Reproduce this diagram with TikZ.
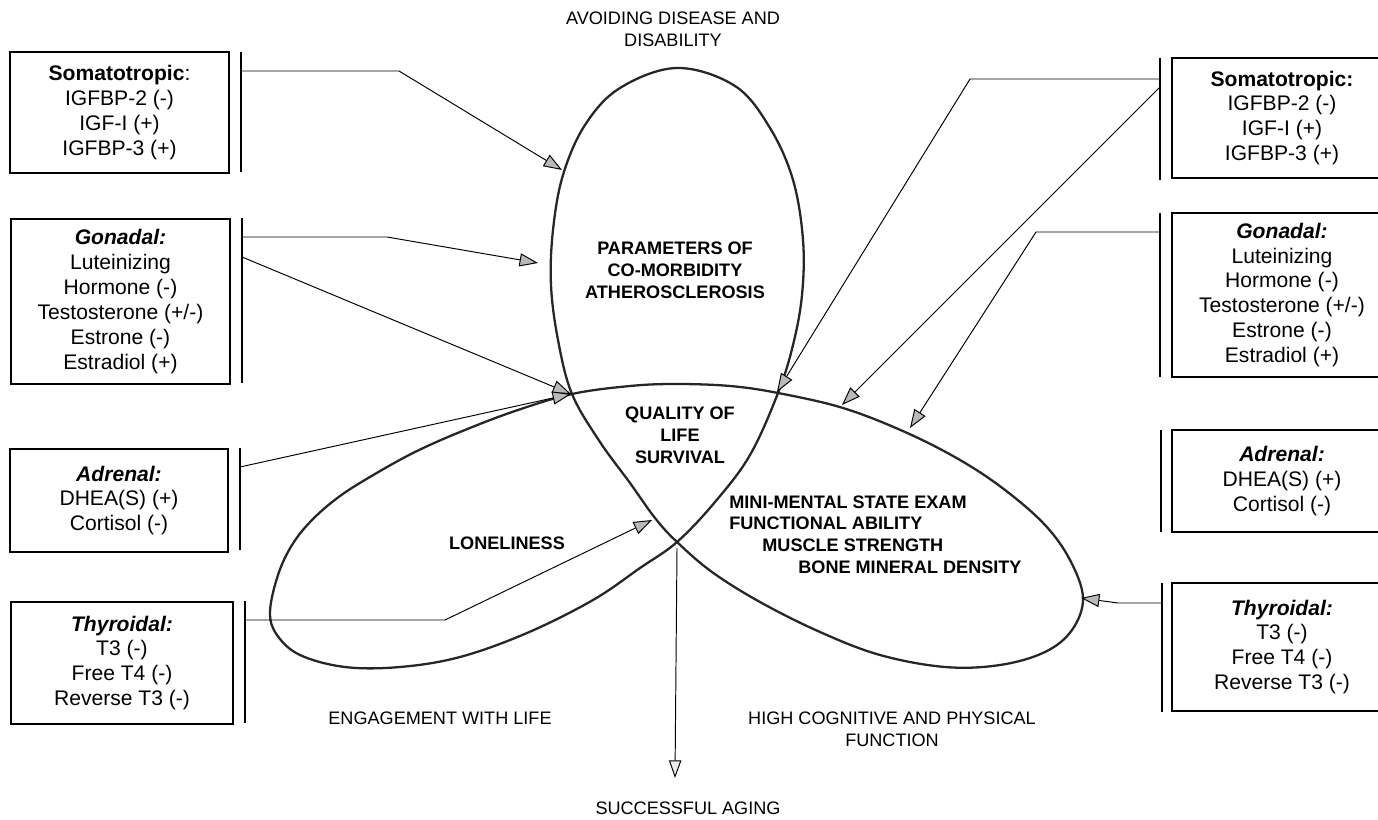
\documentclass[tikz,border=0pt]{standalone}
\usepackage{fontspec}
\setmainfont{Liberation Sans}
\usetikzlibrary{arrows.meta,positioning}
\tikzset{
  hbox/.style={draw, line width=0.9pt, align=center, inner sep=2pt, font=\fontsize{12}{14.2}\selectfont},
  bar/.style={fill=black, inner sep=0pt, minimum width=1.3pt},
  petal/.style={line width=1.3pt, draw=black!85, line join=round},
  arr/.style={-{Triangle[length=10.5pt,width=7.5pt,fill=gray!55]}, line width=0.55pt},
  openarr/.style={-{Triangle[length=10pt,width=7pt,fill=gray!15]}, line width=0.55pt},
  inlabel/.style={align=center, inner sep=0pt, font=\fontsize{10.3}{12.6}\selectfont\bfseries},
  outlabel/.style={align=center, inner sep=0pt, font=\fontsize{10.3}{12.6}\selectfont}
}

\begin{document}
\begin{tikzpicture}[x=0.02cm,y=-0.02cm]
\useasboundingbox (0,0) rectangle (1378,820);

% the three petals, one closed line crossing itself
\draw[petal] plot[smooth cycle, tension=0.6] coordinates {
  (270,612) (278,575) (292,545) (312,520) (340,496) (375,474) (415,452)
  (460,432) (515,411) (572,394) (630,386) (676,384) (730,386) (778,393)
  (843,408) (905,432) (960,460) (1005,490) (1045,525) (1070,560) (1083,598)
  (1072,630) (1045,652) (1000,665) (945,667) (880,655) (820,632) (760,602)
  (712,572) (677,542) (655,518) (630,483) (600,442) (572,394) (558,340)
  (551,285) (553,230) (563,175) (585,125) (620,88) (677,68) (735,86)
  (770,128) (793,180) (803,240) (802,295) (793,345) (778,393) (750,455)
  (715,502) (677,542) (640,568) (593,600) (527,633) (460,657) (400,667)
  (345,667) (300,655) (277,635)};

% hormone boxes, left
\node[hbox, minimum width=4.38cm, minimum height=2.42cm] (lsom) at (119.5,112.5)
  {\textbf{Somatotropic}:\\IGFBP-2 (-)\\IGF-I (+)\\IGFBP-3 (+)};
\node[hbox, minimum width=4.38cm, minimum height=3.3cm] (lgon) at (120.5,301.5)
  {\textbf{\itshape Gonadal:}\\Luteinizing\\Hormone (-)\\Testosterone (+/-)\\Estrone (-)\\Estradiol (+)};
\node[hbox, minimum width=4.36cm, minimum height=2.06cm] (ladr) at (119,500.5)
  {\textbf{\itshape Adrenal:}\\DHEA(S) (+)\\Cortisol (-)};
\node[hbox, minimum width=4.44cm, minimum height=2.44cm] (lthy) at (122,663)
  {\textbf{\itshape Thyroidal:}\\T3 (-)\\Free T4 (-)\\Reverse T3 (-)};

% hormone boxes, right
\node[hbox, minimum width=4.4cm, minimum height=2.4cm] (rsom) at (1282,118)
  {\textbf{Somatotropic:}\\IGFBP-2 (-)\\IGF-I (+)\\IGFBP-3 (+)};
\node[hbox, minimum width=4.4cm, minimum height=3.28cm] (rgon) at (1282,295)
  {\textbf{\itshape Gonadal:}\\Luteinizing\\Hormone (-)\\Testosterone (+/-)\\Estrone (-)\\Estradiol (+)};
\node[hbox, minimum width=4.4cm, minimum height=2.04cm] (radr) at (1282,481)
  {\textbf{\itshape Adrenal:}\\DHEA(S) (+)\\Cortisol (-)};
\node[hbox, minimum width=4.4cm, minimum height=2.56cm] (rthy) at (1282,647)
  {\textbf{\itshape Thyroidal:}\\T3 (-)\\Free T4 (-)\\Reverse T3 (-)};

% bars beside the boxes
\node[bar, minimum height=2.4cm] (lsomBar) at (241,112) {};
\node[bar, minimum height=3.3cm] (lgonBar) at (242,300.5) {};
\node[bar, minimum height=2.04cm] (ladrBar) at (240,499) {};
\node[bar, minimum height=2.44cm] (lthyBar) at (245,662) {};
\node[bar, minimum height=2.44cm] (rsomBar) at (1160,119) {};
\node[bar, minimum height=3.28cm] (rgonBar) at (1160,295) {};
\node[bar, minimum height=2.04cm] (radrBar) at (1161,481) {};
\node[bar, minimum height=2.58cm] (rthyBar) at (1162,647.5) {};

% labels
\node[outlabel] (avoid) at (673,29) {AVOIDING DISEASE AND\\DISABILITY};
\node[outlabel] (engage) at (440,718) {ENGAGEMENT WITH LIFE};
\node[outlabel] (cogn) at (892,729) {HIGH COGNITIVE AND PHYSICAL\\FUNCTION};
\node[outlabel] (success) at (688,808) {SUCCESSFUL AGING};
\node[inlabel] (param) at (675,270) {PARAMETERS OF\\CO-MORBIDITY\\ATHEROSCLEROSIS};
\node[inlabel] (qol) at (680,435) {QUALITY OF\\LIFE\\SURVIVAL};
\node[inlabel] (lonely) at (507,543) {LONELINESS};
\node[inlabel, anchor=west] (mmse) at (729,502) {MINI-MENTAL STATE EXAM};
\node[inlabel, anchor=west] (func) at (729,523) {FUNCTIONAL ABILITY};
\node[inlabel, anchor=west] (muscle) at (762,545) {MUSCLE STRENGTH};
\node[inlabel, anchor=west] (bone) at (798,567) {BONE MINERAL DENSITY};

% ends of the connectors
\coordinate (lsomOut) at (241,71);
\coordinate (lgonOutA) at (242,237);
\coordinate (lgonOutB) at (242,257);
\coordinate (ladrOut) at (240,467);
\coordinate (lthyOut) at (245,620);
\coordinate (rsomOutA) at (1160,79);
\coordinate (rsomOutB) at (1160,87);
\coordinate (rgonOut) at (1160,232);
\coordinate (rthyOut) at (1162,603);
\coordinate (topLeft) at (562,170);
\coordinate (midLeft) at (538,263);
\coordinate (joinLeft) at (571,394);
\coordinate (cross) at (677,542);
\coordinate (joinRight) at (777,392);
\coordinate (arcRight) at (842,405);
\coordinate (rightArc) at (910,428);
\coordinate (rightTip) at (1081,598);
\coordinate (lonelyIn) at (652,520);
\coordinate (aging) at (675,778);

\draw[arr] (lsomOut) -- (399,71) -- (topLeft);
\draw[arr] (lgonOutA) -- (387,237) -- (midLeft);
\draw[arr] (lgonOutB) -- (joinLeft);
\draw[arr] (ladrOut) -- (joinLeft);
\draw[arr] (lthyOut) -- (445,620) -- (lonelyIn);
\draw[arr] (rsomOutA) -- (970,79) -- (joinRight);
\draw[arr] (rsomOutB) -- (arcRight);
\draw[arr] (rgonOut) -- (1036,232) -- (rightArc);
\draw[arr] (rthyOut) -- (1118,603) -- (rightTip);
\draw[openarr] ([yshift=-0.12cm]cross) -- (aging);
\end{tikzpicture}
\end{document}
